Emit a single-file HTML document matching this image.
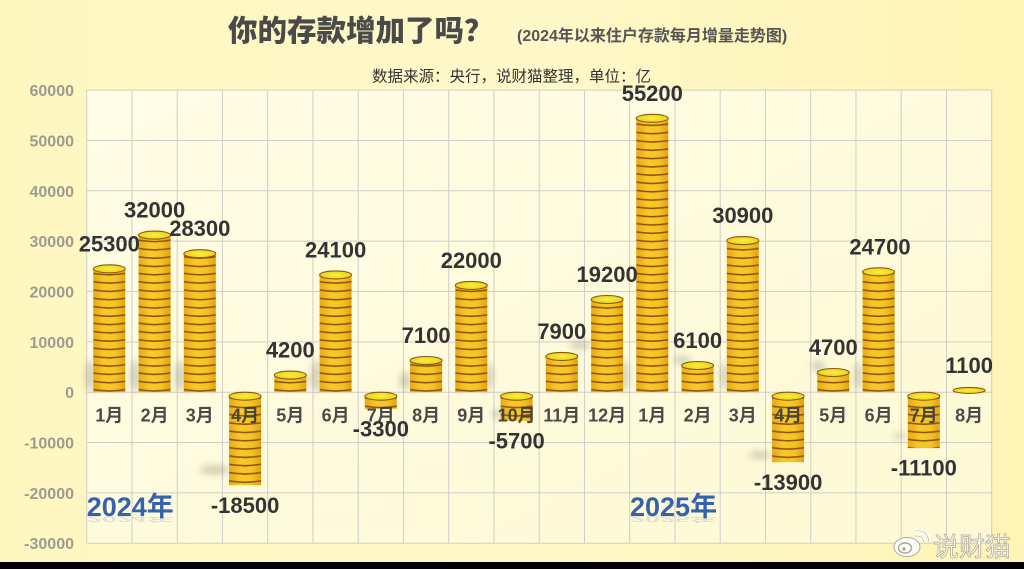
<!DOCTYPE html>
<html>
<head>
<meta charset="utf-8">
<style>
html,body{margin:0;padding:0;background:#FEF8C4;}
body{width:1024px;height:569px;overflow:hidden;}
svg{display:block;}
text{font-family:"Liberation Sans","Noto Sans CJK SC",sans-serif;}
</style>
</head>
<body>
<svg width="1024" height="569" viewBox="0 0 1024 569" xmlns="http://www.w3.org/2000/svg">
<defs>
  <linearGradient id="bg" x1="0" y1="0" x2="1" y2="0">
    <stop offset="0" stop-color="#FEF7C0"/>
    <stop offset="0.5" stop-color="#FFF9CA"/>
    <stop offset="1" stop-color="#FEF4B4"/>
  </linearGradient>
  <linearGradient id="plotbg" x1="0" y1="0" x2="1" y2="1">
    <stop offset="0" stop-color="#FFFDE6"/>
    <stop offset="1" stop-color="#FEF9D4"/>
  </linearGradient>
  <linearGradient id="gold" x1="0" y1="0" x2="1" y2="0">
    <stop offset="0" stop-color="#E7A912"/>
    <stop offset="0.35" stop-color="#F8C82A"/>
    <stop offset="0.7" stop-color="#F6C424"/>
    <stop offset="1" stop-color="#E2A210"/>
  </linearGradient>
  <radialGradient id="capg" cx="0.5" cy="0.5" r="0.6">
    <stop offset="0" stop-color="#F7F03A"/>
    <stop offset="1" stop-color="#E9CC1A"/>
  </radialGradient>
  <pattern id="coin" patternUnits="userSpaceOnUse" x="0" y="0" width="32" height="8.3">
    <rect x="0" y="0" width="32" height="8.3" fill="url(#gold)"/>
    <path d="M0,5.7 Q16,8.5 32,5.7" stroke="#8B5412" stroke-width="1.6" fill="none"/>
  </pattern>
  <filter id="blur" x="-100%" y="-100%" width="300%" height="300%">
    <feGaussianBlur stdDeviation="3.5"/>
  </filter>
</defs>

<!-- background -->
<rect x="0" y="0" width="1024" height="569" fill="url(#bg)"/>
<rect x="0" y="562" width="1024" height="7" fill="#000"/>

<!-- plot area -->
<rect x="86.7" y="90.1" width="905" height="453.15" fill="url(#plotbg)"/>
<g stroke="#D2CDC6" stroke-width="1" fill="none">
  <line x1="86.7" y1="90.1" x2="86.7" y2="543.25"/>
  <line x1="131.95" y1="90.1" x2="131.95" y2="543.25"/>
  <line x1="177.2" y1="90.1" x2="177.2" y2="543.25"/>
  <line x1="222.45" y1="90.1" x2="222.45" y2="543.25"/>
  <line x1="267.7" y1="90.1" x2="267.7" y2="543.25"/>
  <line x1="312.95" y1="90.1" x2="312.95" y2="543.25"/>
  <line x1="358.2" y1="90.1" x2="358.2" y2="543.25"/>
  <line x1="403.45" y1="90.1" x2="403.45" y2="543.25"/>
  <line x1="448.7" y1="90.1" x2="448.7" y2="543.25"/>
  <line x1="493.95" y1="90.1" x2="493.95" y2="543.25"/>
  <line x1="539.2" y1="90.1" x2="539.2" y2="543.25"/>
  <line x1="584.45" y1="90.1" x2="584.45" y2="543.25"/>
  <line x1="629.7" y1="90.1" x2="629.7" y2="543.25"/>
  <line x1="674.95" y1="90.1" x2="674.95" y2="543.25"/>
  <line x1="720.2" y1="90.1" x2="720.2" y2="543.25"/>
  <line x1="765.45" y1="90.1" x2="765.45" y2="543.25"/>
  <line x1="810.7" y1="90.1" x2="810.7" y2="543.25"/>
  <line x1="855.95" y1="90.1" x2="855.95" y2="543.25"/>
  <line x1="901.2" y1="90.1" x2="901.2" y2="543.25"/>
  <line x1="946.45" y1="90.1" x2="946.45" y2="543.25"/>
  <line x1="991.7" y1="90.1" x2="991.7" y2="543.25"/>
  <line x1="86.7" y1="90.1" x2="991.7" y2="90.1"/>
  <line x1="86.7" y1="140.45" x2="991.7" y2="140.45"/>
  <line x1="86.7" y1="190.8" x2="991.7" y2="190.8"/>
  <line x1="86.7" y1="241.15" x2="991.7" y2="241.15"/>
  <line x1="86.7" y1="291.5" x2="991.7" y2="291.5"/>
  <line x1="86.7" y1="341.85" x2="991.7" y2="341.85"/>
  <line x1="86.7" y1="392.2" x2="991.7" y2="392.2"/>
  <line x1="86.7" y1="442.55" x2="991.7" y2="442.55"/>
  <line x1="86.7" y1="492.9" x2="991.7" y2="492.9"/>
  <line x1="86.7" y1="543.25" x2="991.7" y2="543.25"/>
</g>

<!-- y-axis labels -->
<g font-size="16" font-weight="bold" fill="#9C9B92" text-anchor="end">
  <text x="74" y="96">60000</text>
  <text x="74" y="146.4">50000</text>
  <text x="74" y="196.8">40000</text>
  <text x="74" y="247.1">30000</text>
  <text x="74" y="297.5">20000</text>
  <text x="74" y="347.8">10000</text>
  <text x="74" y="398.2">0</text>
  <text x="74" y="448.5">-10000</text>
  <text x="74" y="498.9">-20000</text>
  <text x="74" y="549.2">-30000</text>
</g>

<!-- titles -->
<text x="228" y="41" font-size="29.5" font-weight="900" fill="#4A4A4A">你的存款增加了吗？</text>
<text x="517" y="41" font-size="16" font-weight="bold" fill="#555">(2024年以来住户存款每月增量走势图)</text>
<text x="372" y="81.5" font-size="15.5" fill="#333">数据来源：央行，说财猫整理，单位：亿</text>

<!-- shadows -->
<g fill="#7A7668" opacity="0.32" filter="url(#blur)">
  <ellipse cx="90" cy="376" rx="5" ry="16"/>
  <ellipse cx="135" cy="376" rx="5" ry="16"/>
  <ellipse cx="180" cy="376" rx="5" ry="16"/>
  <ellipse cx="215" cy="470" rx="15" ry="5"/>
  <ellipse cx="300" cy="380" rx="9" ry="5"/>
  <ellipse cx="316" cy="376" rx="5" ry="16"/>
  <ellipse cx="405" cy="381" rx="6" ry="9"/>
  <ellipse cx="489" cy="376" rx="4" ry="14"/>
  <ellipse cx="497" cy="414" rx="5" ry="5"/>
  <ellipse cx="580" cy="345" rx="11" ry="4"/>
  <ellipse cx="625" cy="376" rx="4" ry="16"/>
  <ellipse cx="682" cy="360" rx="9" ry="4"/>
  <ellipse cx="724" cy="376" rx="4" ry="14"/>
  <ellipse cx="760" cy="455" rx="11" ry="4"/>
  <ellipse cx="818" cy="366" rx="7" ry="5"/>
  <ellipse cx="858" cy="376" rx="4" ry="14"/>
  <ellipse cx="900" cy="436" rx="7" ry="3"/>
</g>

<!-- bars -->
<g stroke="#8A5A10" stroke-width="1.1">
  <g transform="translate(93.3,392.2)"><rect x="0" y="-123.4" width="32" height="123.4" fill="url(#coin)" stroke="none"/><ellipse cx="16" cy="-123.4" rx="16" ry="4" fill="url(#capg)"/></g>
  <g transform="translate(138.6,392.2)"><rect x="0" y="-157.1" width="32" height="157.1" fill="url(#coin)" stroke="none"/><ellipse cx="16" cy="-157.1" rx="16" ry="4" fill="url(#capg)"/></g>
  <g transform="translate(183.8,392.2)"><rect x="0" y="-138.5" width="32" height="138.5" fill="url(#coin)" stroke="none"/><ellipse cx="16" cy="-138.5" rx="16" ry="4" fill="url(#capg)"/></g>
  <g transform="translate(274.3,392.2)"><rect x="0" y="-17.1" width="32" height="17.1" fill="url(#coin)" stroke="none"/><ellipse cx="16" cy="-17.1" rx="16" ry="4" fill="url(#capg)"/></g>
  <g transform="translate(319.6,392.2)"><rect x="0" y="-117.3" width="32" height="117.3" fill="url(#coin)" stroke="none"/><ellipse cx="16" cy="-117.3" rx="16" ry="4" fill="url(#capg)"/></g>
  <g transform="translate(410.1,392.2)"><rect x="0" y="-31.7" width="32" height="31.7" fill="url(#coin)" stroke="none"/><ellipse cx="16" cy="-31.7" rx="16" ry="4" fill="url(#capg)"/></g>
  <g transform="translate(455.3,392.2)"><rect x="0" y="-106.8" width="32" height="106.8" fill="url(#coin)" stroke="none"/><ellipse cx="16" cy="-106.8" rx="16" ry="4" fill="url(#capg)"/></g>
  <g transform="translate(545.8,392.2)"><rect x="0" y="-35.8" width="32" height="35.8" fill="url(#coin)" stroke="none"/><ellipse cx="16" cy="-35.8" rx="16" ry="4" fill="url(#capg)"/></g>
  <g transform="translate(591.1,392.2)"><rect x="0" y="-92.7" width="32" height="92.7" fill="url(#coin)" stroke="none"/><ellipse cx="16" cy="-92.7" rx="16" ry="4" fill="url(#capg)"/></g>
  <g transform="translate(636.3,392.2)"><rect x="0" y="-273.9" width="32" height="273.9" fill="url(#coin)" stroke="none"/><ellipse cx="16" cy="-273.9" rx="16" ry="4" fill="url(#capg)"/></g>
  <g transform="translate(681.6,392.2)"><rect x="0" y="-26.7" width="32" height="26.7" fill="url(#coin)" stroke="none"/><ellipse cx="16" cy="-26.7" rx="16" ry="4" fill="url(#capg)"/></g>
  <g transform="translate(726.8,392.2)"><rect x="0" y="-151.6" width="32" height="151.6" fill="url(#coin)" stroke="none"/><ellipse cx="16" cy="-151.6" rx="16" ry="4" fill="url(#capg)"/></g>
  <g transform="translate(817.3,392.2)"><rect x="0" y="-19.7" width="32" height="19.7" fill="url(#coin)" stroke="none"/><ellipse cx="16" cy="-19.7" rx="16" ry="4" fill="url(#capg)"/></g>
  <g transform="translate(862.6,392.2)"><rect x="0" y="-120.4" width="32" height="120.4" fill="url(#coin)" stroke="none"/><ellipse cx="16" cy="-120.4" rx="16" ry="4" fill="url(#capg)"/></g>
  <g transform="translate(953.1,392.2)"><rect x="0" y="-1.5" width="32" height="1.5" fill="url(#coin)" stroke="none"/><ellipse cx="16" cy="-1.8" rx="16" ry="3" fill="url(#capg)"/></g>
  <g transform="translate(229.1,392.2)"><rect x="0" y="4" width="32" height="89.1" fill="url(#coin)" stroke="none"/><ellipse cx="16" cy="4" rx="16" ry="4" fill="url(#capg)"/></g>
  <g transform="translate(364.8,392.2)"><rect x="0" y="4" width="32" height="12.6" fill="url(#coin)" stroke="none"/><ellipse cx="16" cy="4" rx="16" ry="4" fill="url(#capg)"/></g>
  <g transform="translate(500.6,392.2)"><rect x="0" y="4" width="32" height="24.7" fill="url(#coin)" stroke="none"/><ellipse cx="16" cy="4" rx="16" ry="4" fill="url(#capg)"/></g>
  <g transform="translate(772.1,392.2)"><rect x="0" y="4" width="32" height="66" fill="url(#coin)" stroke="none"/><ellipse cx="16" cy="4" rx="16" ry="4" fill="url(#capg)"/></g>
  <g transform="translate(907.8,392.2)"><rect x="0" y="4" width="32" height="51.9" fill="url(#coin)" stroke="none"/><ellipse cx="16" cy="4" rx="16" ry="4" fill="url(#capg)"/></g>
</g>

<!-- month labels -->
<g font-size="18" font-weight="bold" fill="#3C3C3C" text-anchor="middle" opacity="0.92">
  <text x="109.3" y="421.5">1月</text>
  <text x="154.6" y="421.5">2月</text>
  <text x="199.8" y="421.5">3月</text>
  <text x="245.1" y="421.5">4月</text>
  <text x="290.3" y="421.5">5月</text>
  <text x="335.6" y="421.5">6月</text>
  <text x="380.8" y="421.5">7月</text>
  <text x="426.1" y="421.5">8月</text>
  <text x="471.3" y="421.5">9月</text>
  <text x="516.6" y="421.5">10月</text>
  <text x="561.8" y="421.5">11月</text>
  <text x="607.1" y="421.5">12月</text>
  <text x="652.3" y="421.5">1月</text>
  <text x="697.6" y="421.5">2月</text>
  <text x="742.8" y="421.5">3月</text>
  <text x="788.1" y="421.5">4月</text>
  <text x="833.3" y="421.5">5月</text>
  <text x="878.6" y="421.5">6月</text>
  <text x="923.8" y="421.5">7月</text>
  <text x="969.1" y="421.5">8月</text>
</g>

<!-- value labels -->
<g font-size="22" font-weight="bold" fill="#333" text-anchor="middle">
  <text x="109.3" y="251.3">25300</text>
  <text x="154.6" y="217.6">32000</text>
  <text x="199.8" y="236.2">28300</text>
  <text x="245.1" y="512.9">-18500</text>
  <text x="290.3" y="357.6">4200</text>
  <text x="335.6" y="257.4">24100</text>
  <text x="380.8" y="436.4">-3300</text>
  <text x="426.1" y="343">7100</text>
  <text x="471.3" y="267.9">22000</text>
  <text x="516.6" y="448.5">-5700</text>
  <text x="561.8" y="338.9">7900</text>
  <text x="607.1" y="282">19200</text>
  <text x="652.3" y="100.8">55200</text>
  <text x="697.6" y="348">6100</text>
  <text x="742.8" y="223.1">30900</text>
  <text x="788.1" y="489.8">-13900</text>
  <text x="833.3" y="355">4700</text>
  <text x="880" y="254.3">24700</text>
  <text x="923.8" y="475.7">-11100</text>
  <text x="969.1" y="373.2">1100</text>
</g>

<!-- year labels -->
<g font-size="27" font-weight="bold" fill="#3362AE">
  <text x="86.7" y="516">2024年</text>
  <text x="630" y="516">2025年</text>
</g>
<g font-size="27" font-weight="bold" fill="#3362AE" opacity="0.15">
  <text x="86.7" y="516" transform="translate(0,516) scale(1,-0.3) translate(0,-516)">2024年</text>
  <text x="630" y="516" transform="translate(0,516) scale(1,-0.3) translate(0,-516)">2025年</text>
</g>

<!-- watermark -->
<g opacity="0.92">
  <ellipse cx="907" cy="547" rx="13" ry="9.5" fill="#FFFFFF" stroke="#A8A49A" stroke-width="1"/>
  <ellipse cx="905" cy="548" rx="6.5" ry="5" fill="none" stroke="#A8A49A" stroke-width="1.5"/>
  <circle cx="904" cy="549" r="1.8" fill="#A8A49A"/>
  <path d="M915,536 Q923,535 924,543" fill="none" stroke="#FFFFFF" stroke-width="2.4"/>
  <path d="M915,536 Q923,535 924,543" fill="none" stroke="#A8A49A" stroke-width="0.6"/>
  <path d="M915,531 Q928,529 929,543" fill="none" stroke="#FFFFFF" stroke-width="2.4"/>
  <path d="M915,531 Q928,529 929,543" fill="none" stroke="#A8A49A" stroke-width="0.6"/>
  <text x="933" y="556" font-size="26" fill="#FFFFFF" stroke="#A09C90" stroke-width="0.7">说财猫</text>
</g>
</svg>
</body>
</html>
